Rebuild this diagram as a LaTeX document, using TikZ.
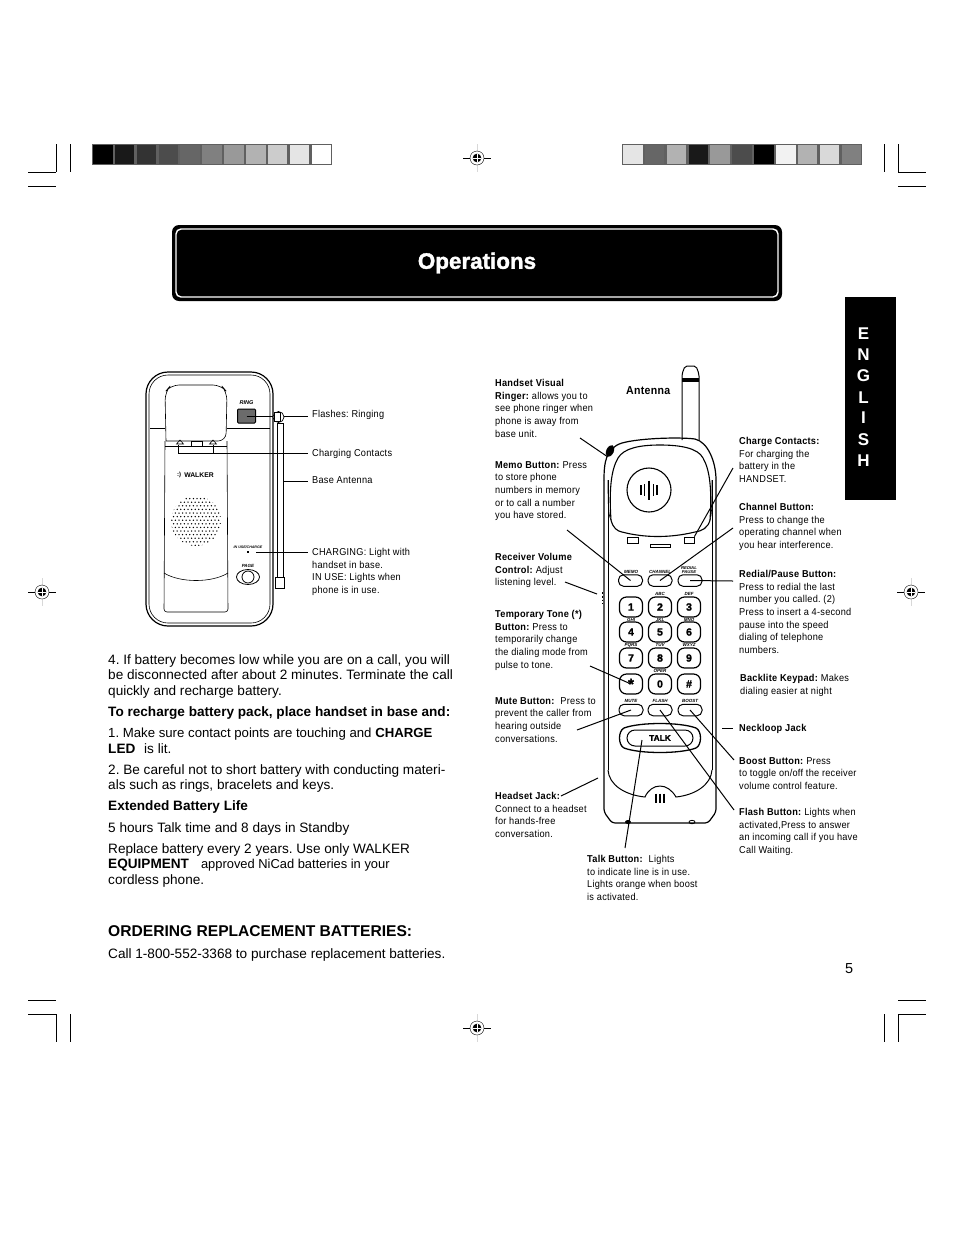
\documentclass[tikz,border=0pt]{standalone}
\usepackage{xcolor}
\usepackage{fontspec}
\setmainfont{Liberation Sans}
\newfontfamily\lblfam[FakeStretch=0.92,LetterSpace=2.5]{Liberation Sans}
\newfontfamily\heavyfam[FakeBold=1.6]{Liberation Sans Bold}
\usetikzlibrary{positioning,calc,shapes.geometric}
\definecolor{BarGray}{HTML}{606060}
\definecolor{RegGray}{HTML}{D8D8D8}
\newcommand{\tightline}{\fontsize{13.2}{15.5}\selectfont}
\begin{document}
\frenchspacing
\begin{tikzpicture}[x=1pt,y=-1pt,
  crop/.style={line width=0.7pt},
  bar/.style={fill=BarGray, minimum width=240pt, minimum height=21pt, inner sep=0pt, anchor=north west},
  body/.style={anchor=north west, inner sep=0pt, align=left, font=\fontsize{13.6}{15.5}\selectfont},
  lbl/.style={anchor=north west, inner sep=0pt, align=left, font=\lblfam\fontsize{10}{12.7}\selectfont},
  tiny/.style={inner sep=0pt, font=\fontsize{4.5}{5}\selectfont\bfseries\itshape},
  leader/.style={line width=1pt},
  keybtn/.style={draw, line width=1.2pt, rounded corners=7pt, minimum width=23pt, minimum height=20pt, inner sep=0pt, font=\heavyfam\fontsize{10.5}{12}\selectfont},
  fnbtn/.style={draw, line width=1pt, rounded corners=5pt, minimum width=24pt, minimum height=11.5pt, inner sep=0pt},
  led/.style={draw, line width=0.8pt, inner sep=0pt}]
\useasboundingbox (0,0) rectangle (954,1235);
\fill[white] (0,0) rectangle (954,1235);
% crop marks
\foreach \x/\yy in {56/144,70/144,884/144,898/144,56/1014,70/1014,884/1014,898/1014}
  \draw[crop] (\x,\yy) -- (\x,\yy+28);
\foreach \x/\yy in {28/172,28/186,898/172,898/186,28/1000,28/1014,898/1000,898/1014}
  \draw[crop] (\x,\yy) -- (\x+28,\yy);
% registration marks
\foreach \x/\yy in {477/158,42/592,911/592,477/1028} {
  \draw[RegGray, line width=1pt] (\x,\yy-14) -- (\x,\yy+14);
  \draw[line width=0.6pt] (\x-14,\yy) -- (\x+14,\yy);
  \draw[line width=0.4pt, fill=white] (\x,\yy) circle (7);
  \fill (\x,\yy) circle (4.3);
  \draw[white, line width=0.7pt] (\x-4.3,\yy) -- (\x+4.3,\yy) (\x,\yy-4.3) -- (\x,\yy+4.3);
}
% gray bars
\node[bar] (barL) at (92,144) {};
\node[bar] (barR) at (622,144) {};
\foreach \i/\g in {0/0,1/10,2/20,3/30,4/40,5/50,6/60,7/70,8/80,9/90,10/100}
  \fill[white!\g!black] (93+\i*21.85,145) rectangle +(19.6,19);
\foreach \i/\g in {0/90,1/40,2/70,3/10,4/60,5/30,6/0,7/95,8/70,9/85,10/50}
  \fill[white!\g!black] (623+\i*21.85,145) rectangle +(19.6,19);
% title
\node[fill=black, rounded corners=7pt, minimum width=610pt, minimum height=76pt, inner sep=0pt] (titlebox) at (477,263) {};
\node[draw=white, line width=1.4pt, rounded corners=5pt, minimum width=602pt, minimum height=68pt, inner sep=0pt,
  text=white, font=\heavyfam\fontsize{22.4}{24}\selectfont] (title) at (477,263) {\raisebox{-1.5pt}{Operations}};
% side tab
\node[fill=black, minimum width=51pt, minimum height=203pt, inner sep=0pt] (tab) at (870.5,398.5) {};
\foreach \c/\yy in {E/334,N/355,G/376,L/398,I/418,S/440,H/461}
  \node[text=white, inner sep=0pt, font=\fontsize{17}{18}\selectfont\bfseries] at (863.5,\yy) {\c};
% base unit
\draw[line width=1.2pt, rounded corners=22pt] (146,372) rectangle (273,626);
\draw[line width=0.6pt, rounded corners=19pt] (149,375) rectangle (270,623);
\draw[line width=0.5pt] (150,428) -- (165,428) (227,428) -- (270,428);
\draw[line width=0.6pt, rounded corners=8pt] (166,441) -- (165,392) -- (171,385) -- (221,385) -- (227,392) -- (226,441) -- (166,441);
\draw[line width=0.6pt, rounded corners=3pt] (165,441) -- (164,612) -- (228,612) -- (227,441);
\draw[line width=0.6pt] (164,573) .. controls (180,583) and (212,583) .. (228,573);
\draw[line width=0.6pt] (165,446) -- (227,446);
\draw[line width=0.6pt] (191,441) rectangle (202,446);
\foreach \x in {180,213}
  \draw[line width=0.6pt] (\x-3.5,444) -- (\x,440) -- (\x+3.5,444) -- cycle;
\node[inner sep=0pt, font=\fontsize{6.8}{7}\selectfont\bfseries] (logo) at (199,475) {WALKER};
\node[inner sep=0pt, font=\fontsize{6}{7}\selectfont\bfseries] (logomark) at (179,475) {:)};
\begin{scope}
  \clip (196,521) circle (25);
  \foreach \r in {0,...,14} {
    \pgfmathsetmacro{\off}{mod(\r,2)*1.8}
    \foreach \c in {0,...,14}
      \fill (170+\c*3.6+\off,495+\r*3.6) circle (0.75);
  }
\end{scope}
\node[draw, fill=black!58, line width=1pt, rounded corners=1pt, minimum width=18pt, minimum height=14pt, inner sep=0pt] (ring) at (246.5,416) {};
\node[tiny, font=\fontsize{5.5}{6}\selectfont\bfseries\itshape] (ringtxt) at (246.5,402.5) {RING};
\node[tiny, font=\fontsize{3.6}{4}\selectfont\bfseries\itshape] (usetxt) at (248,547) {IN USE/CHARGE};
\node[fill=black, minimum size=2.4pt, inner sep=0pt] (useled) at (248,552) {};
\node[tiny] (pagetxt) at (248,565.5) {PAGE};
\node[draw, ellipse, line width=0.8pt, minimum width=23pt, minimum height=15pt, inner sep=0pt] (pageoval) at (248,577) {};
\draw[line width=0.8pt] (pageoval) circle (6);
% base antenna
\coordinate (flashtip) at (308,416);
\draw[leader] (ring.center) -- (flashtip);
\draw[line width=0.7pt, fill=white] (278.5,417) circle (5.5);
\draw[line width=0.7pt, fill=white] (274,412) rectangle (280,421);
\node[draw, line width=0.7pt, fill=white, minimum width=6pt, minimum height=158pt, inner sep=0pt] (baseant) at (280,502) {};
\node[draw, line width=0.7pt, fill=white, minimum width=9pt, minimum height=11pt, inner sep=0pt] (antfoot) at (280,583) {};
\node[lbl] (lflash) at (312,410) {Flashes: Ringing};
\node[lbl] (lcontact) at (312,449) {Charging Contacts};
\node[lbl] (lbaseant) at (312,476) {Base Antenna};
\node[lbl] (lcharging) at (312,548) {CHARGING: Light with\\handset in base.\\IN USE: Lights when\\phone is in use.};
\coordinate (contactA) at (178.5,445);
\coordinate (contactB) at (213,445);
\coordinate (contactend) at (308,453.5);
\draw[leader] (contactA) |- (contactend);
\draw[leader] (contactB) -- (contactB |- contactend);
\draw[leader] (baseant.east |- 0,481) -- (308,481);
\draw[leader] (useled.east) ++(7,0) -- (308,552);
% body text
\node[body] (p1) at (108,654) {4. If battery becomes low while you are on a call, you will\\be disconnected after about 2 minutes. Terminate the call\\quickly and recharge battery.};
\node[body] (p2) at (108,706) {\textbf{To recharge battery pack, place handset in base and:}};
\node[body] (p3) at (108,728) {{\tightline 1. Make sure contact points are touching and \textbf{CHARGE}}\\\textbf{LED}\hspace{5pt} is lit.};
\node[body] (p4) at (108,764) {2. Be careful not to short battery with conducting materi-\\als such as rings, bracelets and keys.};
\node[body] (p5) at (108,800) {\textbf{Extended Battery Life}};
\node[body] (p6) at (108,822) {5 hours Talk time and 8 days in Standby};
\node[body] (p7) at (108,843) {Replace battery every 2 years. Use only WALKER\\\textbf{EQUIPMENT}\hspace{12pt}{\fontsize{12.9}{15.5}\selectfont approved NiCad batteries in your}\\cordless phone.};
\node[body, font=\fontsize{15.6}{17}\selectfont\bfseries] (p8) at (108,925) {ORDERING REPLACEMENT BATTERIES:};
\node[body] (p9) at (108,948) {Call 1-800-552-3368 to purchase replacement batteries.};
\node[body, font=\fontsize{14.5}{16}\selectfont] (pageno) at (845,963) {5};
% handset
\draw[line width=1pt, fill=white, rounded corners=2pt] (682,440) -- (682,374) -- (685,366) -- (696,366) -- (699,374) -- (699,440);
\fill (682,378) rectangle (699,382);
\draw[line width=1.2pt, rounded corners=3pt] (604,480) -- (604,812) -- (612,823) -- (708,823) -- (716,812) -- (716,480);
\draw[line width=1.2pt] (604,480) .. controls (604,462) and (606,448) .. (622,443) .. controls (640,438) and (680,437) .. (695,439) .. controls (708,442) and (716,462) .. (716,480);
\draw[line width=0.8pt] (608,480) -- (608,770) (712,480) -- (712,770);
\draw[line width=1pt] (608,770) .. controls (609,785) and (625,795) .. (645,797) .. controls (648,790) and (654,786) .. (660,786) .. controls (666,786) and (672,790) .. (676,797) .. controls (695,795) and (711,785) .. (712,770);
\draw[line width=1.1pt] (611,520) .. controls (609,490) and (611,470) .. (618,458) .. controls (624,448) and (640,445) .. (660,445) .. controls (680,445) and (698,448) .. (703,458) .. controls (710,470) and (712,490) .. (710,520) .. controls (708,528) and (702,531) .. (695,532) .. controls (670,538) and (645,538) .. (622,532) .. controls (617,531) and (613,528) .. (611,520) -- cycle;
\draw[line width=0.6pt] (608,480) .. controls (608,500) and (608,515) .. (611,520) (712,480) .. controls (712,500) and (712,515) .. (710,520);
\node[draw, circle, line width=1.1pt, minimum size=44pt, inner sep=0pt] (earpiece) at (649,490) {};
\foreach \x/\h in {-8/5,-4.5/6,0/9.5,4.5/6,8/5}
  \draw[line width=1.7pt] ($(earpiece)+(\x,-\h)$) -- ($(earpiece)+(\x,\h)$);
\node[draw, fill=black, ellipse, minimum width=7pt, minimum height=12pt, inner sep=0pt, rotate=-25] (ringer) at (610,451) {};
\node[led, minimum width=11pt, minimum height=6pt] (ledL) at (632.5,540) {};
\node[led, minimum width=20pt, minimum height=3pt] (ledM) at (660,545.5) {};
\node[led, minimum width=10pt, minimum height=6pt] (ledR) at (689,540) {};
\draw[line width=1.8pt, dotted] (602.5,592) -- (602.5,604);
\fill (628,822) ellipse (3 and 2);
\draw[line width=0.8pt] (692,822) ellipse (3 and 1.7);
\foreach \x in {-4,0,4}
  \draw[line width=1.6pt] (660+\x,793.5) -- (660+\x,803);
% buttons
\foreach \n/\x in {memo/630.5,channel/660,redial/690}
  \node[fnbtn] (\n) at (\x,580.5) {};
\node[tiny] (memotxt) at (631,571.5) {MEMO};
\node[tiny] (channeltxt) at (660,571.5) {CHANNEL};
\node[tiny, align=center, font=\fontsize{4.2}{4.2}\selectfont\bfseries\itshape] (redialtxt) at (689,570) {REDIAL\\PAUSE};
\foreach \n/\t/\x/\yy in {k1/1/631/607,k2/2/660/607,k3/3/689/607,k4/4/631/632,k5/5/660/632,k6/6/689/632,k7/7/631/658,k8/8/660/658,k9/9/689/658,kstar/\raisebox{-2pt}{\fontsize{15}{15}\selectfont *}/631/684,k0/0/660/684,khash/\#/689/684}
  \node[keybtn] (\n) at (\x,\yy) {\t};
\foreach \t/\x/\yy in {ABC/660/594,DEF/689/594,GHI/631/619.5,JKL/660/619.5,MNO/689/619.5,PQRS/631/645,TUV/660/645,WXYZ/689/645,OPER/660/671}
  \node[tiny] at (\x,\yy) {\t};
\foreach \n/\x/\t in {mute/631/MUTE,flash/660/FLASH,boost/690/BOOST} {
  \node[fnbtn] (\n) at (\x,710) {};
  \node[tiny] at (\x,701) {\t};
}
\draw[line width=1.3pt] (624,728) .. controls (640,722) and (680,722) .. (696,728) .. controls (702,731) and (702,745) .. (696,748) .. controls (680,754) and (640,754) .. (624,748) .. controls (618,745) and (618,731) .. (624,728) -- cycle;
\node[draw, line width=1pt, rounded corners=8pt, minimum width=66pt, minimum height=16pt, inner sep=0pt, font=\heavyfam\fontsize{8.4}{9}\selectfont] (talk) at (660,738) {TALK};
% leaders on the handset
\coordinate (ringerend) at (580,438);
\coordinate (memoend) at (567,530);
\coordinate (volend) at (565,582);
\coordinate (voltip) at (597,594);
\coordinate (toneend) at (590,666);
\coordinate (muteend) at (577,730);
\coordinate (headend) at (561,796);
\coordinate (headtip) at (598,778);
\coordinate (talkend) at (625,848);
\coordinate (contactsend) at (733,468);
\coordinate (channelend) at (733,528);
\coordinate (redialend) at (733,581);
\coordinate (neckstart) at (722,728);
\coordinate (neckend) at (733,728);
\coordinate (boostend) at (734,760);
\coordinate (flashend) at (734,810);
\foreach \a/\b in {ringerend/ringer.south,memoend/memo.center,volend/voltip,toneend/kstar.center,muteend/mute.center,headend/headtip,contactsend/ledR.north east,channelend/channel.center,redialend/redial.center,neckstart/neckend,boostend/boost.center,flashend/flash.center}
  \draw[leader] (\a) -- (\b);
\draw[leader] (talkend) -- ($(talk.center)+(-18,2)$);
% handset labels
\node[lbl, font=\lblfam\fontsize{11.5}{13}\selectfont\bfseries] (lantenna) at (626,386) {Antenna};
\node[lbl] (lringer) at (495,379) {\textbf{Handset Visual}\\\textbf{Ringer:} allows you to\\see phone ringer when\\phone is away from\\base unit.};
\node[lbl] (lmemo) at (495,461) {\textbf{Memo Button:} Press\\to store phone\\numbers in memory\\or to call a number\\you have stored.};
\node[lbl] (lvol) at (495,553) {\textbf{Receiver Volume}\\\textbf{Control:} Adjust\\listening level.};
\node[lbl] (ltone) at (495,610) {\textbf{Temporary Tone (*)}\\\textbf{Button:} Press to\\temporarily change\\the dialing mode from\\pulse to tone.};
\node[lbl] (lmute) at (495,697) {\textbf{Mute Button:}\hspace{3pt} Press to\\prevent the caller from\\hearing outside\\conversations.};
\node[lbl] (lhead) at (495,792) {\textbf{Headset Jack:}\\Connect to a headset\\for hands-free\\conversation.};
\node[lbl] (ltalk) at (587,855) {\textbf{Talk Button:}\hspace{3pt} Lights\\to indicate line is in use.\\Lights orange when boost\\is activated.};
\node[lbl] (lcharge) at (739,437) {\textbf{Charge Contacts:}\\For charging the\\battery in the\\HANDSET.};
\node[lbl] (lchannel) at (739,503) {\textbf{Channel Button:}\\Press to change the\\operating channel when\\you hear interference.};
\node[lbl] (lredial) at (739,570) {\textbf{Redial/Pause Button:}\\Press to redial the last\\number you called. (2)\\Press to insert a 4-second\\pause into the speed\\dialing of telephone\\numbers.};
\node[lbl] (lback) at (740,674) {\textbf{Backlite Keypad:} Makes\\dialing easier at night};
\node[lbl] (lneck) at (739,724) {\textbf{Neckloop Jack}};
\node[lbl] (lboost) at (739,757) {\textbf{Boost Button:} Press\\to toggle on/off the receiver\\volume control feature.};
\node[lbl] (lflash2) at (739,808) {\textbf{Flash Button:} Lights when\\activated,Press to answer\\an incoming call if you have\\Call Waiting.};
\end{tikzpicture}
\end{document}
